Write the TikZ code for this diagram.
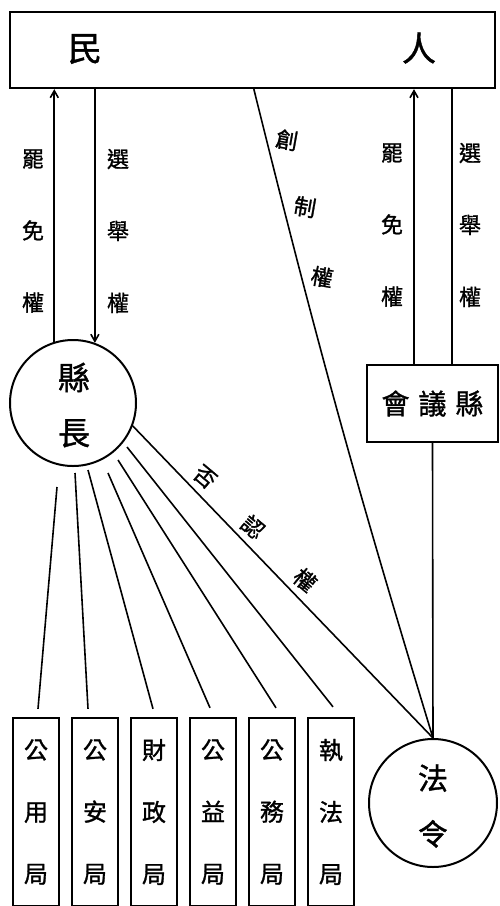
\documentclass[tikz,border=0pt]{standalone}
\usepackage{fontspec}
\newfontfamily\cjk[FakeBold=1.2]{Noto Sans CJK TC}
\usetikzlibrary{arrows.meta,calc}
\begin{document}
\begin{tikzpicture}[x=1pt,y=-1pt,
  box/.style={draw,line width=2.3pt,inner sep=0pt},
  circ/.style={draw,circle,line width=2pt,inner sep=0pt},
  conn/.style={line width=1.6pt},
  arr/.style={conn,-{Straight Barb[length=7pt,width=8pt,line width=1.6pt]}},
  lbl/.style={font=\cjk\fontsize{22}{72}\selectfont,align=center,inner sep=0pt},
  slant/.style={font=\cjk\fontsize{22}{22}\selectfont,inner sep=0pt},
  big/.style={font=\cjk\fontsize{32}{55}\selectfont,align=center,inner sep=0pt},
  bureau/.style={box,minimum width=46pt,minimum height=188pt,font=\cjk\fontsize{24}{62}\selectfont,align=center}
]
\useasboundingbox (0,0) rectangle (499,906);
% top box
\node[box,minimum width=485pt,minimum height=76pt] (people) at (252.5,50) {};
\node[font=\cjk\fontsize{34}{34}\selectfont,inner sep=0pt] (min) at (85,49) {民};
\node[font=\cjk\fontsize{34}{34}\selectfont,inner sep=0pt] (ren) at (419,48) {人};
% county head
\node[circ,minimum size=126pt] (kz) at (73,403) {};
\node[big] (kzt) at (74,405) {縣\\長};
% county council
\node[box,minimum width=131pt,minimum height=77pt,font=\cjk\fontsize{28}{28}\selectfont] (xyh) at (432.5,403.5) {會\hspace{9pt}議\hspace{9pt}縣};
% law
\node[circ,minimum size=128pt] (fl) at (433,803) {};
\node[big,font=\cjk\fontsize{30}{56}\selectfont] (flt) at (433,806) {法\\令};
% bureaus
\node[bureau] (b1) at (36,812) {公\\用\\局};
\node[bureau] (b2) at (95,812) {公\\安\\局};
\node[bureau] (b3) at (154,812) {財\\政\\局};
\node[bureau] (b4) at (213,812) {公\\益\\局};
\node[bureau] (b5) at (272,812) {公\\務\\局};
\node[bureau] (b6) at (331,812) {執\\法\\局};
% left arrows
\draw[arr] (kz.107) -- (kz.107 |- people.south);
\draw[arr] (kz.70 |- people.south) -- (kz.70);
\node[lbl] (l1) at (33,231) {罷\\免\\權};
\node[lbl] (l2) at (118,231) {選\\舉\\權};
% right arrows
\coordinate (ra) at ($(xyh.north)+(-18.5,0)$);
\coordinate (rb) at ($(xyh.north)+(19.5,0)$);
\draw[arr] (ra) -- (ra |- people.south);
\draw[conn] (rb |- people.south) -- (rb);
\node[lbl] (l3) at (392,225) {罷\\免\\權};
\node[lbl] (l4) at (470,225) {選\\舉\\權};
% council to law
\draw[conn] (xyh.south) -- (fl.north);
% initiative
\coordinate (cz) at ($(people.south west)+(245,0)$);
\draw[conn] (cz) to[bend right=1.5] (fl.north);
\node[slant,rotate=-10] (c1) at (287,140) {創};
\node[slant,rotate=-10] (c2) at (305,207) {制};
\node[slant,rotate=-10] (c3) at (322,277) {權};
% veto
\draw[conn] (kz.-21) -- (fl.north);
\node[slant,rotate=-40] (v1) at (205,477) {否};
\node[slant,rotate=-40] (v2) at (253,527) {認};
\node[slant,rotate=-40] (v3) at (305,580) {權};
% head to bureaus
\coordinate (s1) at (57,487);
\coordinate (s2) at (75,473);
\coordinate (s3) at (88,470);
\coordinate (s4) at (108,473);
\coordinate (s5) at (118,460);
\coordinate (s6) at (127,447);
\draw[conn] (s1) -- ($(b1.north)+(2,-8)$);
\draw[conn] (s2) -- ($(b2.north)+(-7,-8)$);
\draw[conn] (s3) -- ($(b3.north)+(-1,-8)$);
\draw[conn] (s4) -- ($(b4.north)+(-3,-9)$);
\draw[conn] (s5) -- ($(b5.north)+(4,-9)$);
\draw[conn] (s6) -- ($(b6.north)+(2,-10)$);
\end{tikzpicture}
\end{document}
